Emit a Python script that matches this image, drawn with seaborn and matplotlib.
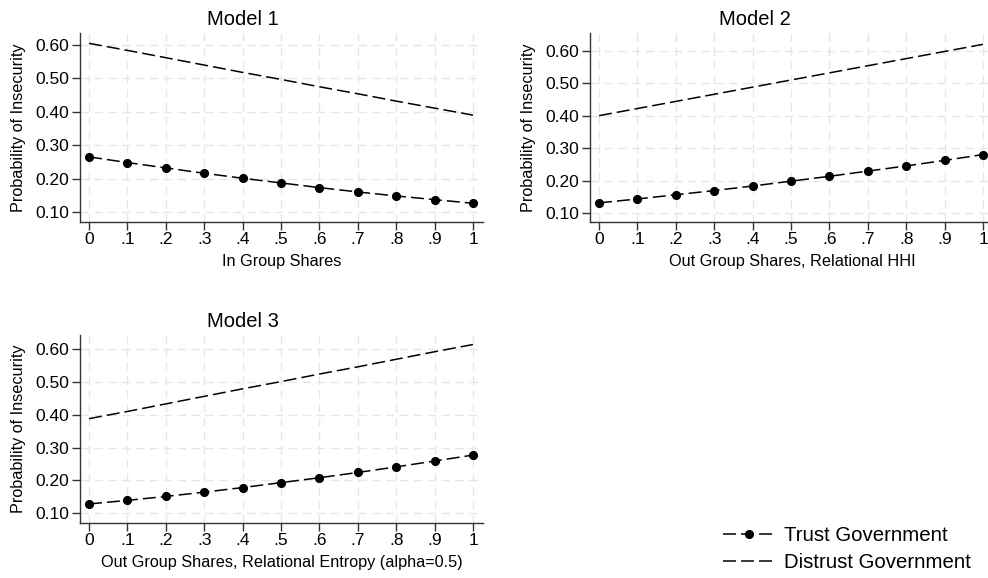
import numpy as np
import pandas as pd
import matplotlib
matplotlib.use("Agg")
import matplotlib.pyplot as plt
import seaborn as sns

# valores (probabilidade prevista por modelo)
shares = [0, 0.1, 0.2, 0.3, 0.4, 0.5, 0.6, 0.7, 0.8, 0.9, 1.0]
x_tick_labels = ["0", ".1", ".2", ".3", ".4", ".5", ".6", ".7", ".8", ".9", "1"]
y_ticks = [0.10, 0.20, 0.30, 0.40, 0.50, 0.60]

m1_trust = [0.265, 0.248, 0.232, 0.216, 0.201, 0.187, 0.173, 0.160, 0.148, 0.137, 0.126]
m1_distrust = [0.605, 0.584, 0.562, 0.540, 0.518, 0.497, 0.475, 0.454, 0.432, 0.411, 0.390]
m2_trust = [0.131, 0.143, 0.156, 0.169, 0.183, 0.198, 0.213, 0.229, 0.245, 0.262, 0.280]
m2_distrust = [0.400, 0.422, 0.444, 0.466, 0.488, 0.510, 0.532, 0.554, 0.576, 0.598, 0.620]
m3_trust = [0.128, 0.139, 0.151, 0.164, 0.178, 0.193, 0.208, 0.224, 0.241, 0.259, 0.277]
m3_distrust = [0.388, 0.410, 0.433, 0.456, 0.479, 0.501, 0.524, 0.546, 0.569, 0.592, 0.614]

titles = ["Model 1", "Model 2", "Model 3"]
xlabels = ["In Group Shares",
           "Out Group Shares, Relational HHI",
           "Out Group Shares, Relational Entropy (alpha=0.5)"]

sns.set_style("white")
plt.rcParams["font.family"] = ["Liberation Sans", "DejaVu Sans"]
plt.rcParams.update({"text.color": "black", "axes.labelcolor": "black",
                     "xtick.color": "black", "ytick.color": "black"})

fig = plt.figure(figsize=(9.88, 5.78), dpi=100)
W, H = 988, 578

# posicoes em pixels: (esquerda, topo, direita, base, ylim, x do titulo)
paineis = [
    (80, 33, 483, 222, (0.070, 0.636), 0.404),
    (590, 33, 994, 222, (0.072, 0.655), 0.408),
    (80, 335, 483, 523, (0.070, 0.643), 0.404),
]
series = [(m1_trust, m1_distrust), (m2_trust, m2_distrust), (m3_trust, m3_distrust)]

dash = (0, (8.5, 3.3))
handles = None
for i, ((l, t, r, b, ylim, tx), (trust, distrust)) in enumerate(zip(paineis, series)):
    ax = fig.add_axes([l / W, (H - b) / H, (r - l) / W, (b - t) / H])
    ax.grid(True, color="#e6e6e6", linestyle=(0, (6, 4)), linewidth=1.0)
    ax.set_axisbelow(True)
    sns.lineplot(x=shares, y=distrust, ax=ax, color="black", linestyle=dash,
                 linewidth=1.1, label="Distrust Government", legend=False)
    sns.lineplot(x=shares, y=trust, ax=ax, color="black", linestyle=dash,
                 linewidth=1.1, marker="o", markersize=5.8, markeredgecolor="black",
                 label="Trust Government", legend=False)
    # unidade x: 0 -> 1 ocupa 384 px
    ax.set_xlim(-(9 / 384) * 1.0, 1 + (r - l - 9 - 384) / 384)
    ax.set_ylim(*ylim)
    ax.set_xticks(shares)
    ax.set_xticklabels(x_tick_labels)
    ax.set_yticks(y_ticks)
    ax.set_yticklabels([f"{v:.2f}" for v in y_ticks])
    ax.tick_params(axis="both", labelsize=12.5, length=5.5, width=1, color="#333333",
                   direction="out", left=True, bottom=True, pad=2)
    for s in ["top", "right"]:
        ax.spines[s].set_visible(False)
    for s in ["left", "bottom"]:
        ax.spines[s].set_color("#333333")
        ax.spines[s].set_linewidth(1.0)
    ax.set_title(titles[i], fontsize=14.5, pad=6, x=tx)
    ax.set_xlabel(xlabels[i], fontsize=11.7, labelpad=5)
    ax.set_ylabel("Probability of Insecurity", fontsize=11.7, labelpad=7)
    if handles is None:
        h, lab = ax.get_legend_handles_labels()
        handles = (h[::-1], lab[::-1])

fig.legend(handles[0], handles[1], loc="center left",
           bbox_to_anchor=(719 / W, (H - 549) / H),
           frameon=False, fontsize=14.7, handlelength=2.5, handletextpad=0.5,
           labelspacing=0.42, borderaxespad=0.0, borderpad=0.2)

plt.savefig("out.png", dpi=100)
plt.close()
